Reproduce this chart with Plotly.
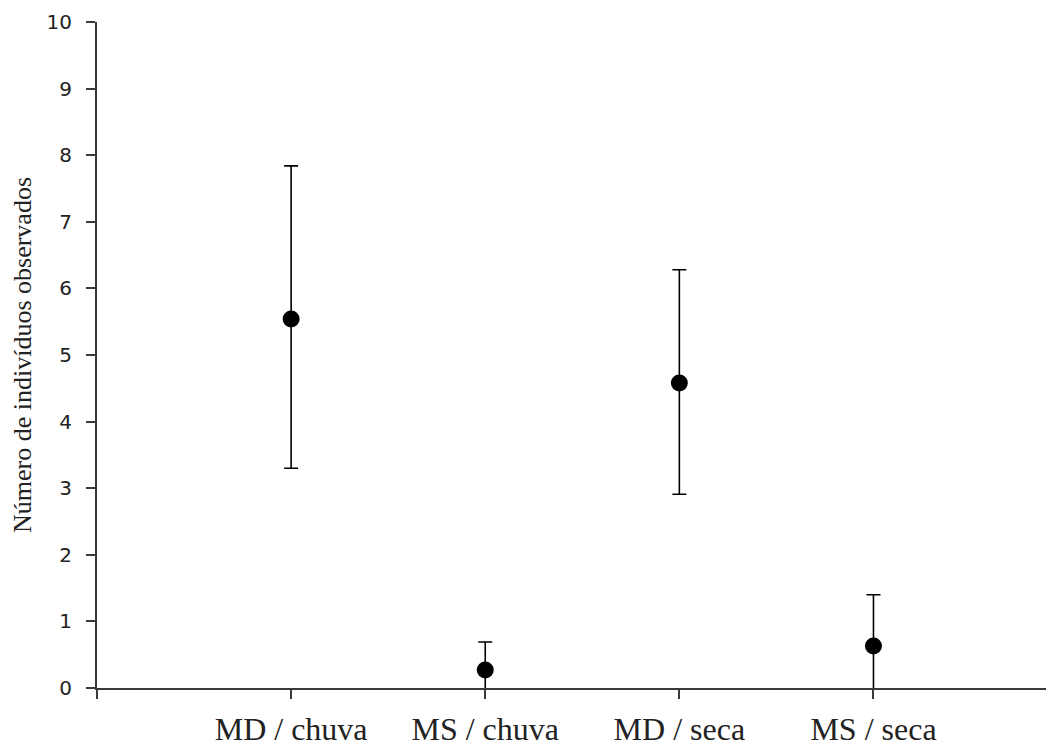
import plotly.graph_objects as go

categories = ["MD / chuva", "MS / chuva", "MD / seca", "MS / seca"]
means = [5.54, 0.27, 4.58, 0.63]
err_plus = [2.30, 0.42, 1.70, 0.77]
err_minus = [2.24, 0.42, 1.67, 0.77]
y_ticks = list(range(0, 11))

xpos = list(range(1, len(categories) + 1))

fig = go.Figure()
fig.add_trace(go.Scatter(
    x=xpos, y=means, mode="markers",
    marker=dict(color="black", size=17, symbol="circle"),
    error_y=dict(type="data", symmetric=False, array=err_plus, arrayminus=err_minus,
                 color="black", thickness=1.6, width=7),
    showlegend=False,
))

fig.update_layout(
    width=1046, height=741,
    margin=dict(l=89, r=0, t=14, b=61),
    paper_bgcolor="white", plot_bgcolor="white",
    xaxis=dict(
        range=[0, 4.93], tickmode="array", tickvals=[0] + xpos, ticktext=[""] + categories,
        showline=True, linecolor="#3a3a3a", linewidth=2, showgrid=False, zeroline=False,
        ticks="outside", ticklen=9, tickwidth=1.5, tickcolor="#3a3a3a",
        tickfont=dict(family="Liberation Serif, Times New Roman, serif", size=32, color="#222"),
        ticklabelstandoff=3,
    ),
    yaxis=dict(
        range=[0, 10], tickmode="array", tickvals=y_ticks,
        showline=True, linecolor="#3a3a3a", linewidth=2, showgrid=False, zeroline=False,
        ticks="outside", ticklen=9, tickwidth=1.5, tickcolor="#3a3a3a",
        tickfont=dict(family="Verdana, DejaVu Sans, sans-serif", size=20, color="#222"),
        ticklabelstandoff=10,
        title=dict(text="Número de indivíduos observados",
                   font=dict(family="Liberation Serif, Times New Roman, serif", size=26, color="#222"),
                   standoff=7),
    ),
)

fig.write_html("out.html")
